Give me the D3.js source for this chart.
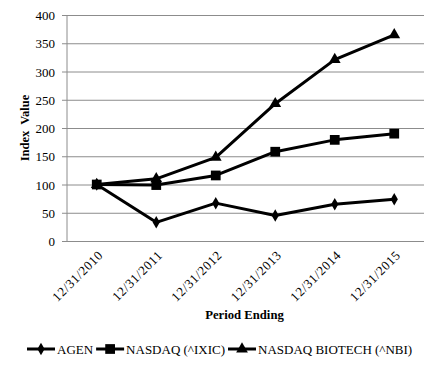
<!DOCTYPE html>
<html>
<head>
<meta charset="utf-8">
<script src="https://cdn.jsdelivr.net/npm/d3@7"></script>
<style>
    body{ margin: 0; background: #fff; }
    .grid line{ stroke: #8c8c8c; stroke-width: 1; }
    .grid path{ display: none; }
    .axis path, .axis line{ stroke: #8c8c8c; }
</style>
</head>
<body>
<svg id="chart" width="438" height="370"></svg>
<script>
const periods = ['12/31/2010', '12/31/2011', '12/31/2012', '12/31/2013', '12/31/2014', '12/31/2015'];
const agen = [100, 33, 67, 45, 65, 74];
const nasdaq = [100, 99, 116, 158, 179, 190];
const biotech = [100, 110, 148, 243, 321, 365];
const yTicks = [0, 50, 100, 150, 200, 250, 300, 350, 400];

const FONT = '"Liberation Serif", "Times New Roman", serif';

const series = [
    {name: 'AGEN', values: agen, symbol: d3.symbolDiamond, size: 45},
    {name: 'NASDAQ (^IXIC)', values: nasdaq, symbol: d3.symbolSquare, size: 95},
    {name: 'NASDAQ BIOTECH (^NBI)', values: biotech, symbol: d3.symbolTriangle, size: 60}
];

const svg = d3.select('#chart').style('font-family', FONT);
const margin = {top: 15, right: 14, bottom: 129, left: 67};
const width = 438 - margin.left - margin.right,
    height = 370 - margin.top - margin.bottom;

const x = d3.scaleBand().domain(periods).range([0, width]);
const y = d3.scaleLinear().domain([0, 400]).range([height, 0]);

const g = svg.append('g').attr('transform', `translate(${margin.left},${margin.top})`);

// gridlines + y ticks
g.append('g')
    .attr('class', 'grid axis')
    .call(d3.axisLeft(y).tickValues(yTicks).tickSize(-width).tickPadding(12))
    .call(s => s.selectAll('.tick line').attr('x1', -5))
    .call(s => s.selectAll('.tick text')
        .attr('dy', '0.35em')
        .attr('fill', '#000')
        .style('font-family', FONT)
        .style('font-size', '13px'));

// y axis line
g.append('line')
    .attr('x1', 0).attr('x2', 0)
    .attr('y1', 0).attr('y2', height)
    .attr('stroke', '#8c8c8c');

// x axis labels
const xAxis = g.append('g')
    .attr('class', 'axis')
    .attr('transform', `translate(0,${height})`)
    .call(d3.axisBottom(x).tickSize(0).tickPadding(0));
xAxis.select('.domain').remove();
xAxis.selectAll('.tick text')
    .attr('text-anchor', 'end')
    .attr('dy', 0)
    .attr('fill', '#000')
    .attr('transform', 'translate(7,15) rotate(-45)')
    .style('font-family', FONT)
    .style('font-size', '13px')
    .style('letter-spacing', '0.6px');

// lines
const line = d3.line()
    .x((d, i) => x(periods[i]) + x.bandwidth() / 2)
    .y(d => y(d));

series.forEach(s => {
    g.append('path')
        .datum(s.values)
        .attr('fill', 'none')
        .attr('stroke', '#000')
        .attr('stroke-width', 3)
        .attr('stroke-linejoin', 'round')
        .attr('d', line);

    g.selectAll(null)
        .data(s.values)
        .enter()
            .append('path')
            .attr('d', d3.symbol().type(s.symbol).size(s.size))
            .attr('transform', (d, i) => `translate(${x(periods[i]) + x.bandwidth() / 2},${y(d)})`)
            .attr('fill', '#000');
});

// axis titles
svg.append('text')
    .attr('transform', `translate(29,${margin.top + height / 2}) rotate(-90)`)
    .attr('text-anchor', 'middle')
    .style('font-family', FONT)
    .style('font-size', '12.5px')
    .style('font-weight', 'bold')
    .style('word-spacing', '3px')
    .text('Index Value');

svg.append('text')
    .attr('x', margin.left + width / 2 - 1)
    .attr('y', 319)
    .attr('text-anchor', 'middle')
    .style('font-family', FONT)
    .style('font-size', '12.7px')
    .style('font-weight', 'bold')
    .text('Period Ending');

// legend
const legend = svg.append('g').attr('transform', 'translate(27,349)');
let offset = 0;
series.forEach(s => {
    let item = legend.append('g').attr('transform', `translate(${offset},0)`);
    item.append('line')
        .attr('x1', 0).attr('x2', 28)
        .attr('stroke', '#000').attr('stroke-width', 3);
    item.append('path')
        .attr('d', d3.symbol().type(s.symbol).size(s.size))
        .attr('transform', 'translate(14,0)');
    let label = item.append('text')
        .attr('x', 30)
        .attr('dy', '0.35em')
        .style('font-family', FONT)
        .style('font-size', '13px')
        .text(s.name);
    offset += 30 + label.node().getComputedTextLength() + 3;
});
</script>
</body>
</html>
